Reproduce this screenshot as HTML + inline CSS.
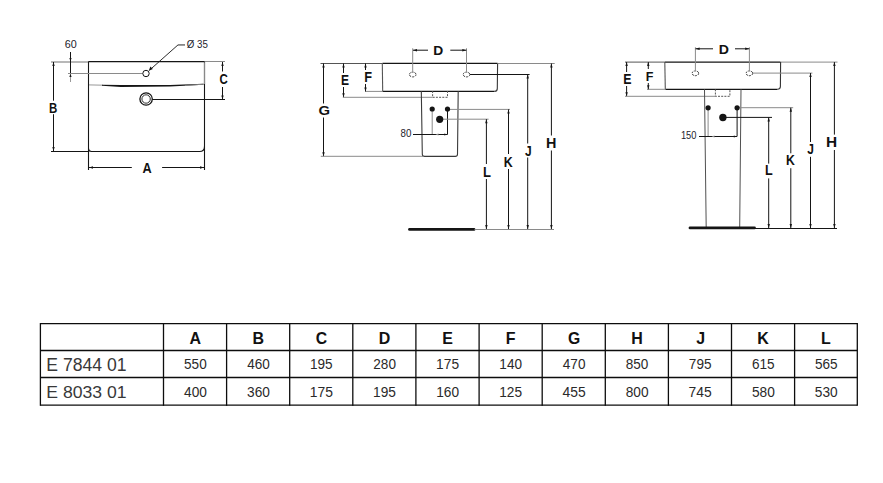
<!DOCTYPE html>
<html><head><meta charset="utf-8"><style>
html,body{margin:0;padding:0;background:#fff;width:883px;height:483px;overflow:hidden}
svg{display:block;font-family:"Liberation Sans",sans-serif}
</style></head><body>
<svg width="883" height="483" viewBox="0 0 883 483">
<line x1="51" y1="62" x2="88.5" y2="62" stroke="#a0a0a0" stroke-width="1.4"/>
<line x1="88.5" y1="61.6" x2="204.5" y2="61.6" stroke="#151515" stroke-width="1.3"/>
<line x1="204.5" y1="61.5" x2="225" y2="61.5" stroke="#8a8a8a" stroke-width="1"/>
<line x1="88.5" y1="61.5" x2="88.5" y2="170" stroke="#151515" stroke-width="1.1"/>
<path d="M204.5,61.5 V146.5 Q204.5,151.5 199.5,151.5 H91.5 Q88.5,151.5 88.5,148.5" fill="none" stroke="#151515" stroke-width="1.1"/>
<line x1="204.5" y1="146" x2="204.5" y2="170" stroke="#151515" stroke-width="1.1"/>
<line x1="204.5" y1="62.3" x2="204.5" y2="84" stroke="#888" stroke-width="1.2"/>
<line x1="51" y1="151.5" x2="88.5" y2="151.5" stroke="#151515" stroke-width="1.1"/>
<line x1="53.5" y1="62" x2="53.5" y2="151" stroke="#151515" stroke-width="1"/>
<polygon points="53.50,62.00 52.30,66.00 54.70,66.00" fill="#151515"/>
<polygon points="53.50,151.00 52.30,147.00 54.70,147.00" fill="#151515"/>
<rect x="47" y="100.7" width="14" height="13.5" fill="#fff"/>
<text transform="translate(49.05,112.90) scale(0.800,1)" font-size="14.35" font-weight="bold" fill="#111">B</text>
<line x1="89" y1="167.5" x2="204" y2="167.5" stroke="#151515" stroke-width="1"/>
<polygon points="89.00,167.50 93.00,166.30 93.00,168.70" fill="#151515"/>
<polygon points="204.00,167.50 200.00,166.30 200.00,168.70" fill="#151515"/>
<rect x="131.8" y="160" width="30.3" height="15" fill="#fff"/>
<text transform="translate(142.38,173.10) scale(0.850,1)" font-size="14.93" font-weight="bold" fill="#111">A</text>
<line x1="70.5" y1="52" x2="70.5" y2="74" stroke="#151515" stroke-width="1"/>
<line x1="70.5" y1="74" x2="70.5" y2="82" stroke="#999" stroke-width="1"/>
<polygon points="70.50,61.50 69.40,58.00 71.60,58.00" fill="#151515"/>
<polygon points="70.50,73.50 69.40,77.00 71.60,77.00" fill="#151515"/>
<line x1="68" y1="73.5" x2="142.8" y2="73.5" stroke="#8a8a8a" stroke-width="1"/>
<text transform="translate(64.76,47.90) scale(1.007,1)" font-size="10.71" fill="#22222c">60</text>
<circle cx="146" cy="73.5" r="3.2" fill="#fff" stroke="#151515" stroke-width="1"/>
<polyline points="149.5,70.2 178,44.9 185,44.9" fill="none" stroke="#151515" stroke-width="0.9"/>
<line x1="178" y1="44.9" x2="185" y2="44.9" stroke="#8a8a8a" stroke-width="1"/>
<polygon points="148.8,70.8 150.4,66.6 152.9,69.1" fill="#151515"/>
<text transform="translate(186.71,47.90) scale(0.910,1)" font-size="10.69" fill="#22222c">Ø 35</text>
<line x1="89" y1="84.9" x2="103" y2="85.2" stroke="#999" stroke-width="1"/>
<path d="M102,84.8 L121,84.9 L170,85.0 L203.5,83.8 L203.5,84.8 L170,86.6 L121,86.9 L102,85.8 Z" fill="#151515"/>
<path d="M185,84.9 L203.5,83.8 L203.5,84.8 L185,85.8 Z" fill="#888"/>
<circle cx="146.1" cy="99" r="6.2" fill="none" stroke="#151515" stroke-width="1.3"/>
<circle cx="146.1" cy="99" r="4.2" fill="none" stroke="#151515" stroke-width="0.9"/>
<line x1="152.3" y1="99.5" x2="225" y2="99.5" stroke="#151515" stroke-width="1"/>
<line x1="222.5" y1="62" x2="222.5" y2="99.5" stroke="#151515" stroke-width="1"/>
<polygon points="222.50,62.00 221.30,66.00 223.70,66.00" fill="#151515"/>
<polygon points="222.50,99.50 221.30,95.50 223.70,95.50" fill="#151515"/>
<rect x="216" y="71.5" width="14" height="15.5" fill="#fff"/>
<text transform="translate(219.44,83.90) scale(0.810,1)" font-size="14.14" font-weight="bold" fill="#111">C</text>
<line x1="320.5" y1="63.5" x2="382.5" y2="63.5" stroke="#555" stroke-width="1"/>
<line x1="382.5" y1="63.4" x2="497.5" y2="63.4" stroke="#151515" stroke-width="1.3"/>
<line x1="497.5" y1="63.5" x2="554.7" y2="63.5" stroke="#8a8a8a" stroke-width="1"/>
<line x1="382.5" y1="91.4" x2="494.5" y2="91.4" stroke="#151515" stroke-width="1.3"/>
<path d="M494.5,91.4 Q497.3,91.4 497.3,88.4 L497.6,63.5" fill="none" stroke="#333" stroke-width="1.1"/>
<line x1="382.3" y1="63.5" x2="382.7" y2="91.4" stroke="#555" stroke-width="1.1"/>
<line x1="365" y1="91.4" x2="382.5" y2="91.4" stroke="#8a8a8a" stroke-width="1"/>
<line x1="365.5" y1="63.5" x2="365.5" y2="91.4" stroke="#151515" stroke-width="1"/>
<polygon points="365.50,63.50 364.30,67.50 366.70,67.50" fill="#151515"/>
<polygon points="365.50,91.40 364.30,87.40 366.70,87.40" fill="#151515"/>
<rect x="362" y="70" width="12" height="14" fill="#fff"/>
<text transform="translate(364.17,82.00) scale(0.879,1)" font-size="14.49" font-weight="bold" fill="#111">F</text>
<line x1="343.5" y1="63.5" x2="343.5" y2="97.3" stroke="#151515" stroke-width="1"/>
<polygon points="343.50,63.50 342.30,67.50 344.70,67.50" fill="#151515"/>
<polygon points="343.50,97.30 342.30,93.30 344.70,93.30" fill="#151515"/>
<rect x="339" y="73" width="12" height="14" fill="#fff"/>
<text transform="translate(341.02,85.00) scale(0.822,1)" font-size="14.64" font-weight="bold" fill="#111">E</text>
<line x1="342.8" y1="97.3" x2="432.6" y2="97.3" stroke="#8a8a8a" stroke-width="1"/>
<path d="M432.6,91 V97.3 H447.5 V91" fill="none" stroke="#555" stroke-width="1" stroke-dasharray="2,1.2"/>
<line x1="323.5" y1="63.5" x2="323.5" y2="156.3" stroke="#151515" stroke-width="1"/>
<polygon points="323.50,63.50 322.30,67.50 324.70,67.50" fill="#151515"/>
<polygon points="323.50,156.30 322.30,152.30 324.70,152.30" fill="#151515"/>
<rect x="317" y="103.5" width="14" height="14" fill="#fff"/>
<text transform="translate(318.41,114.90) scale(1.140,1)" font-size="13.00" font-weight="bold" fill="#111">G</text>
<line x1="320.8" y1="156.3" x2="423" y2="156.3" stroke="#8a8a8a" stroke-width="1"/>
<path d="M421.3,91 L422.3,154.2 Q422.5,156.4 424.7,156.4 H455.3 Q457.4,156.4 457.5,154.2 L458.2,91" fill="none" stroke="#3a3a3a" stroke-width="1.1"/>
<line x1="432.2" y1="109" x2="432.2" y2="134.5" stroke="#8a8a8a" stroke-width="1"/>
<line x1="447.5" y1="109" x2="447.5" y2="134.5" stroke="#151515" stroke-width="1"/>
<line x1="413" y1="134.5" x2="447.5" y2="134.5" stroke="#151515" stroke-width="1"/>
<polygon points="435.50,134.50 438.50,133.50 438.50,135.50" fill="#8a8a8a"/>
<polygon points="447.30,134.50 444.30,133.50 444.30,135.50" fill="#151515"/>
<text transform="translate(400.56,136.90) scale(0.911,1)" font-size="10.71" fill="#22222c">80</text>
<line x1="447.5" y1="109.4" x2="510" y2="109.4" stroke="#8a8a8a" stroke-width="1"/>
<line x1="439.7" y1="119.2" x2="488.6" y2="119.2" stroke="#8a8a8a" stroke-width="1"/>
<circle cx="432.2" cy="109" r="2.6" fill="#151515" stroke="none" stroke-width="0"/>
<circle cx="447.5" cy="109" r="2.6" fill="#151515" stroke="none" stroke-width="0"/>
<circle cx="439.7" cy="119.3" r="3.6" fill="#151515" stroke="none" stroke-width="0"/>
<line x1="469.6" y1="74.5" x2="529.6" y2="74.5" stroke="#151515" stroke-width="1"/>
<line x1="486.4" y1="119.2" x2="486.4" y2="229" stroke="#151515" stroke-width="1"/>
<polygon points="486.40,119.20 485.20,123.20 487.60,123.20" fill="#151515"/>
<polygon points="486.40,229.00 485.20,225.00 487.60,225.00" fill="#151515"/>
<line x1="508.5" y1="109.4" x2="508.5" y2="229" stroke="#151515" stroke-width="1"/>
<polygon points="508.50,109.40 507.30,113.40 509.70,113.40" fill="#151515"/>
<polygon points="508.50,229.00 507.30,225.00 509.70,225.00" fill="#151515"/>
<line x1="527.7" y1="74.5" x2="527.7" y2="229" stroke="#151515" stroke-width="1"/>
<polygon points="527.70,74.50 526.50,78.50 528.90,78.50" fill="#151515"/>
<polygon points="527.70,229.00 526.50,225.00 528.90,225.00" fill="#151515"/>
<line x1="551.4" y1="63.5" x2="551.4" y2="229" stroke="#151515" stroke-width="1"/>
<polygon points="551.40,63.50 550.20,67.50 552.60,67.50" fill="#151515"/>
<polygon points="551.40,229.00 550.20,225.00 552.60,225.00" fill="#151515"/>
<ellipse cx="412.7" cy="74.5" rx="3.3" ry="2.4" fill="#fff" stroke="#333" stroke-width="1" stroke-dasharray="2,1"/>
<ellipse cx="466.5" cy="74.5" rx="3.3" ry="2.4" fill="#fff" stroke="#333" stroke-width="1" stroke-dasharray="2,1"/>
<line x1="412.7" y1="48.3" x2="412.7" y2="71.9" stroke="#8a8a8a" stroke-width="1"/>
<line x1="466.5" y1="48.3" x2="466.5" y2="71.9" stroke="#8a8a8a" stroke-width="1"/>
<line x1="413" y1="50.2" x2="428" y2="50.2" stroke="#151515" stroke-width="1"/>
<line x1="450.3" y1="50.2" x2="466.3" y2="50.2" stroke="#151515" stroke-width="1"/>
<polygon points="413.00,50.20 417.00,49.00 417.00,51.40" fill="#151515"/>
<polygon points="466.30,50.20 462.30,49.00 462.30,51.40" fill="#151515"/>
<text transform="translate(433.30,54.90) scale(1.025,1)" font-size="13.48" font-weight="bold" fill="#111">D</text>
<line x1="409.5" y1="229.4" x2="474" y2="229.4" stroke="#151515" stroke-width="2.8" stroke-linecap="round"/>
<line x1="474.5" y1="229.5" x2="554" y2="229.5" stroke="#8a8a8a" stroke-width="1"/>
<rect x="484.4" y="164" width="4" height="15" fill="#fff"/>
<text transform="translate(482.95,176.90) scale(0.872,1)" font-size="14.93" font-weight="bold" fill="#111">L</text>
<rect x="506.5" y="154" width="4" height="15" fill="#fff"/>
<text transform="translate(503.69,166.90) scale(0.839,1)" font-size="14.78" font-weight="bold" fill="#111">K</text>
<rect x="525.7" y="143.5" width="4" height="14.0" fill="#fff"/>
<text transform="translate(525.02,155.70) scale(0.845,1)" font-size="14.20" font-weight="bold" fill="#111">J</text>
<rect x="549.4" y="135.5" width="4" height="15.0" fill="#fff"/>
<text transform="translate(546.06,147.90) scale(1.014,1)" font-size="14.20" font-weight="bold" fill="#111">H</text>
<line x1="625" y1="62.1" x2="665" y2="62.1" stroke="#555" stroke-width="1"/>
<line x1="665" y1="62.1" x2="780.5" y2="62.1" stroke="#151515" stroke-width="1.3"/>
<line x1="780.5" y1="62.1" x2="837.5" y2="62.1" stroke="#8a8a8a" stroke-width="1"/>
<line x1="665.3" y1="89.3" x2="777.5" y2="89.3" stroke="#151515" stroke-width="1.3"/>
<path d="M777.5,89.3 Q780.3,89.3 780.4,86.5 L780.6,62.1" fill="none" stroke="#333" stroke-width="1.1"/>
<line x1="664.8" y1="62.1" x2="665.3" y2="89.3" stroke="#555" stroke-width="1.1"/>
<line x1="647" y1="89.3" x2="665.5" y2="89.3" stroke="#8a8a8a" stroke-width="1"/>
<line x1="648.3" y1="62.1" x2="648.3" y2="89.3" stroke="#151515" stroke-width="1"/>
<polygon points="648.30,62.10 647.10,66.10 649.50,66.10" fill="#151515"/>
<polygon points="648.30,89.30 647.10,85.30 649.50,85.30" fill="#151515"/>
<rect x="644" y="69" width="12" height="14" fill="#fff"/>
<text transform="translate(645.78,80.60) scale(0.921,1)" font-size="13.62" font-weight="bold" fill="#111">F</text>
<line x1="626.6" y1="62.1" x2="626.6" y2="96.3" stroke="#151515" stroke-width="1"/>
<polygon points="626.60,62.10 625.40,66.10 627.80,66.10" fill="#151515"/>
<polygon points="626.60,96.30 625.40,92.30 627.80,92.30" fill="#151515"/>
<rect x="621" y="72" width="13" height="14" fill="#fff"/>
<text transform="translate(623.19,84.30) scale(0.830,1)" font-size="14.93" font-weight="bold" fill="#111">E</text>
<line x1="625" y1="96.3" x2="715.4" y2="96.3" stroke="#8a8a8a" stroke-width="1"/>
<path d="M715.4,89.3 V96.3 H729.9 V89.3" fill="none" stroke="#555" stroke-width="1" stroke-dasharray="2,1.2"/>
<line x1="704.5" y1="89.3" x2="706.2" y2="228" stroke="#505050" stroke-width="1"/>
<line x1="741" y1="89.3" x2="739.7" y2="228" stroke="#505050" stroke-width="1"/>
<line x1="708.1" y1="107.8" x2="708.1" y2="136.5" stroke="#8a8a8a" stroke-width="1"/>
<line x1="737.1" y1="107.8" x2="737.1" y2="136.5" stroke="#151515" stroke-width="1"/>
<line x1="699" y1="136.5" x2="737" y2="136.5" stroke="#151515" stroke-width="1"/>
<polygon points="711.50,136.50 714.50,135.50 714.50,137.50" fill="#8a8a8a"/>
<polygon points="736.80,136.50 733.80,135.50 733.80,137.50" fill="#151515"/>
<text transform="translate(680.90,138.90) scale(0.845,1)" font-size="11.00" fill="#22222c">150</text>
<line x1="737" y1="107.7" x2="793.2" y2="107.7" stroke="#8a8a8a" stroke-width="1"/>
<line x1="723" y1="117.4" x2="772" y2="117.4" stroke="#151515" stroke-width="1"/>
<circle cx="708.1" cy="107.8" r="2.6" fill="#151515" stroke="none" stroke-width="0"/>
<circle cx="737.1" cy="107.8" r="2.6" fill="#151515" stroke="none" stroke-width="0"/>
<circle cx="722.9" cy="117.5" r="3.7" fill="#151515" stroke="none" stroke-width="0"/>
<line x1="752" y1="73.1" x2="812.4" y2="73.1" stroke="#8a8a8a" stroke-width="1"/>
<line x1="768.7" y1="117.4" x2="768.7" y2="228" stroke="#151515" stroke-width="1"/>
<polygon points="768.70,117.40 767.50,121.40 769.90,121.40" fill="#151515"/>
<polygon points="768.70,228.00 767.50,224.00 769.90,224.00" fill="#151515"/>
<line x1="790.8" y1="107.7" x2="790.8" y2="228" stroke="#151515" stroke-width="1"/>
<polygon points="790.80,107.70 789.60,111.70 792.00,111.70" fill="#151515"/>
<polygon points="790.80,228.00 789.60,224.00 792.00,224.00" fill="#151515"/>
<line x1="810.5" y1="73.1" x2="810.5" y2="228" stroke="#151515" stroke-width="1"/>
<polygon points="810.50,73.10 809.30,77.10 811.70,77.10" fill="#151515"/>
<polygon points="810.50,228.00 809.30,224.00 811.70,224.00" fill="#151515"/>
<line x1="834.4" y1="62.1" x2="834.4" y2="228" stroke="#151515" stroke-width="1"/>
<polygon points="834.40,62.10 833.20,66.10 835.60,66.10" fill="#151515"/>
<polygon points="834.40,228.00 833.20,224.00 835.60,224.00" fill="#151515"/>
<ellipse cx="695.4" cy="73.3" rx="3.3" ry="2.4" fill="#fff" stroke="#333" stroke-width="1" stroke-dasharray="2,1"/>
<ellipse cx="749.4" cy="73.3" rx="3.3" ry="2.4" fill="#fff" stroke="#333" stroke-width="1" stroke-dasharray="2,1"/>
<line x1="695.4" y1="47.3" x2="695.4" y2="70.7" stroke="#8a8a8a" stroke-width="1"/>
<line x1="749.4" y1="47.3" x2="749.4" y2="70.7" stroke="#8a8a8a" stroke-width="1"/>
<line x1="695.6" y1="48.8" x2="713" y2="48.8" stroke="#151515" stroke-width="1"/>
<line x1="735" y1="48.8" x2="749.2" y2="48.8" stroke="#151515" stroke-width="1"/>
<polygon points="695.60,48.80 699.60,47.60 699.60,50.00" fill="#151515"/>
<polygon points="749.20,48.80 745.20,47.60 745.20,50.00" fill="#151515"/>
<text transform="translate(718.78,53.80) scale(1.038,1)" font-size="13.62" font-weight="bold" fill="#111">D</text>
<line x1="690" y1="227.9" x2="754.5" y2="227.9" stroke="#151515" stroke-width="2.8" stroke-linecap="round"/>
<line x1="755" y1="228.5" x2="837" y2="228.5" stroke="#151515" stroke-width="1"/>
<rect x="766.7" y="163.6" width="4" height="14.800000000000011" fill="#fff"/>
<text transform="translate(764.98,175.00) scale(0.846,1)" font-size="14.93" font-weight="bold" fill="#111">L</text>
<rect x="788.8" y="153.3" width="4" height="14.899999999999977" fill="#fff"/>
<text transform="translate(785.90,165.00) scale(0.845,1)" font-size="14.49" font-weight="bold" fill="#111">K</text>
<rect x="808.5" y="142" width="4" height="14.800000000000011" fill="#fff"/>
<text transform="translate(807.22,153.90) scale(0.812,1)" font-size="14.78" font-weight="bold" fill="#111">J</text>
<rect x="832.4" y="134.6" width="4" height="15.400000000000006" fill="#fff"/>
<text transform="translate(826.00,147.10) scale(1.064,1)" font-size="14.49" font-weight="bold" fill="#111">H</text>
<line x1="40.4" y1="323.6" x2="857.3" y2="323.6" stroke="#0d0d0d" stroke-width="1.3"/>
<line x1="40.4" y1="350.5" x2="857.3" y2="350.5" stroke="#0d0d0d" stroke-width="1.3"/>
<line x1="40.4" y1="377.5" x2="857.3" y2="377.5" stroke="#0d0d0d" stroke-width="1.3"/>
<line x1="40.4" y1="405.2" x2="857.3" y2="405.2" stroke="#0d0d0d" stroke-width="1.3"/>
<line x1="40.4" y1="323" x2="40.4" y2="405.8" stroke="#0d0d0d" stroke-width="1.3"/>
<line x1="163.5" y1="323" x2="163.5" y2="405.8" stroke="#0d0d0d" stroke-width="1.3"/>
<line x1="226.6" y1="323" x2="226.6" y2="405.8" stroke="#0d0d0d" stroke-width="1.3"/>
<line x1="289.7" y1="323" x2="289.7" y2="405.8" stroke="#0d0d0d" stroke-width="1.3"/>
<line x1="352.8" y1="323" x2="352.8" y2="405.8" stroke="#0d0d0d" stroke-width="1.3"/>
<line x1="415.9" y1="323" x2="415.9" y2="405.8" stroke="#0d0d0d" stroke-width="1.3"/>
<line x1="479.1" y1="323" x2="479.1" y2="405.8" stroke="#0d0d0d" stroke-width="1.3"/>
<line x1="542.2" y1="323" x2="542.2" y2="405.8" stroke="#0d0d0d" stroke-width="1.3"/>
<line x1="605.3" y1="323" x2="605.3" y2="405.8" stroke="#0d0d0d" stroke-width="1.3"/>
<line x1="668.4" y1="323" x2="668.4" y2="405.8" stroke="#0d0d0d" stroke-width="1.3"/>
<line x1="731.5" y1="323" x2="731.5" y2="405.8" stroke="#0d0d0d" stroke-width="1.3"/>
<line x1="794.6" y1="323" x2="794.6" y2="405.8" stroke="#0d0d0d" stroke-width="1.3"/>
<line x1="857.3" y1="323" x2="857.3" y2="405.8" stroke="#0d0d0d" stroke-width="1.3"/>
<text transform="translate(189.59,344.00) scale(0.920,1)" font-size="17.39" font-weight="bold" fill="#111">A</text>
<text transform="translate(184.06,369.00) scale(0.950,1)" font-size="14.29" fill="#2a2a2a">550</text>
<text transform="translate(184.05,396.90) scale(0.950,1)" font-size="14.43" fill="#2a2a2a">400</text>
<text transform="translate(252.55,344.00) scale(0.920,1)" font-size="17.39" font-weight="bold" fill="#111">B</text>
<text transform="translate(247.27,369.00) scale(0.950,1)" font-size="14.29" fill="#2a2a2a">460</text>
<text transform="translate(247.05,396.90) scale(0.950,1)" font-size="14.43" fill="#2a2a2a">360</text>
<text transform="translate(315.78,344.00) scale(0.920,1)" font-size="17.14" font-weight="bold" fill="#111">C</text>
<text transform="translate(310.04,369.00) scale(0.950,1)" font-size="14.29" fill="#2a2a2a">195</text>
<text transform="translate(309.76,396.90) scale(0.950,1)" font-size="14.64" fill="#2a2a2a">175</text>
<text transform="translate(378.72,344.00) scale(0.920,1)" font-size="17.39" font-weight="bold" fill="#111">D</text>
<text transform="translate(373.32,369.00) scale(0.950,1)" font-size="14.29" fill="#2a2a2a">280</text>
<text transform="translate(373.03,396.90) scale(0.950,1)" font-size="14.43" fill="#2a2a2a">195</text>
<text transform="translate(442.24,344.00) scale(0.920,1)" font-size="17.39" font-weight="bold" fill="#111">E</text>
<text transform="translate(436.09,369.00) scale(0.950,1)" font-size="14.49" fill="#2a2a2a">175</text>
<text transform="translate(436.14,396.90) scale(0.950,1)" font-size="14.43" fill="#2a2a2a">160</text>
<text transform="translate(505.79,344.00) scale(0.920,1)" font-size="17.39" font-weight="bold" fill="#111">F</text>
<text transform="translate(499.37,369.00) scale(0.950,1)" font-size="14.29" fill="#2a2a2a">140</text>
<text transform="translate(499.25,396.90) scale(0.950,1)" font-size="14.43" fill="#2a2a2a">125</text>
<text transform="translate(568.06,344.00) scale(0.920,1)" font-size="17.14" font-weight="bold" fill="#111">G</text>
<text transform="translate(562.82,369.00) scale(0.950,1)" font-size="14.29" fill="#2a2a2a">470</text>
<text transform="translate(562.54,396.90) scale(0.950,1)" font-size="14.64" fill="#2a2a2a">455</text>
<text transform="translate(631.37,344.00) scale(0.920,1)" font-size="17.39" font-weight="bold" fill="#111">H</text>
<text transform="translate(625.79,369.00) scale(0.950,1)" font-size="14.29" fill="#2a2a2a">850</text>
<text transform="translate(625.68,396.90) scale(0.950,1)" font-size="14.43" fill="#2a2a2a">800</text>
<text transform="translate(696.19,344.00) scale(0.920,1)" font-size="17.39" font-weight="bold" fill="#111">J</text>
<text transform="translate(688.87,369.00) scale(0.950,1)" font-size="14.29" fill="#2a2a2a">795</text>
<text transform="translate(688.59,396.90) scale(0.950,1)" font-size="14.64" fill="#2a2a2a">745</text>
<text transform="translate(757.15,344.00) scale(0.920,1)" font-size="17.39" font-weight="bold" fill="#111">K</text>
<text transform="translate(751.98,369.00) scale(0.950,1)" font-size="14.29" fill="#2a2a2a">615</text>
<text transform="translate(751.93,396.90) scale(0.950,1)" font-size="14.43" fill="#2a2a2a">580</text>
<text transform="translate(821.09,344.00) scale(0.920,1)" font-size="17.39" font-weight="bold" fill="#111">L</text>
<text transform="translate(814.95,369.00) scale(0.950,1)" font-size="14.29" fill="#2a2a2a">565</text>
<text transform="translate(814.84,396.90) scale(0.950,1)" font-size="14.43" fill="#2a2a2a">530</text>
<text transform="translate(46.29,371.20) scale(1.002,1)" font-size="17.57" fill="#383838">E 7844 01</text>
<text transform="translate(46.29,398.00) scale(1.019,1)" font-size="17.29" fill="#383838">E 8033 01</text>
</svg></body></html>
